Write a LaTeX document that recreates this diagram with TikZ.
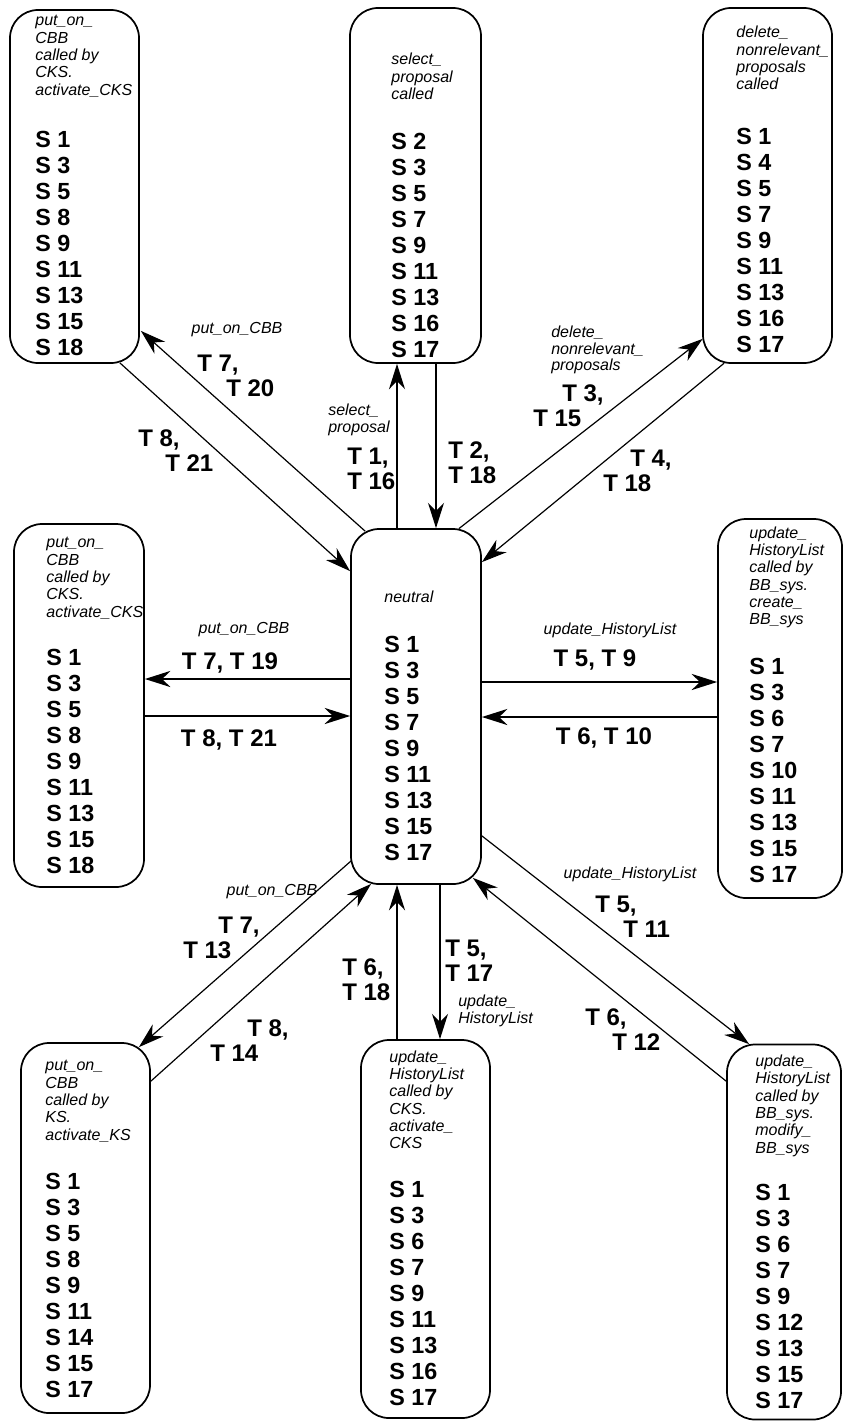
\documentclass[tikz,border=0pt]{standalone}
\usepackage{fontspec}
\setmainfont{Liberation Sans}
\usetikzlibrary{arrows.meta,positioning,calc}

\tikzset{
  state/.style={draw=black, line width=1.3pt, rounded corners=21pt, inner sep=0pt},
  head/.style={anchor=north west, inner sep=0pt, align=left, font=\fontsize{12}{13}\selectfont\itshape},
  slist/.style={anchor=north west, inner sep=0pt, align=left, font=\fontsize{17.5}{19.5}\selectfont\bfseries},
  act/.style={inner sep=0pt, align=left, font=\fontsize{12}{12.5}\selectfont\itshape},
  trans/.style={inner sep=0pt, align=left, font=\fontsize{18}{18.75}\selectfont\bfseries},
  arr/.style={-{Stealth[length=19pt, width=12pt, inset=6pt]}},
  diag/.style={arr, line width=0.9pt},
  vert/.style={arr, line width=1.3pt},
  horz/.style={arr, line width=2pt}
}

\begin{document}
\begin{tikzpicture}[x=0.75pt, y=-0.75pt]
\useasboundingbox (0,0) rectangle (844,1421);

% states, top row
\node[state, minimum width=96.75pt, minimum height=264.75pt] (put1) at (74.5,186.5) {};
\node[head] (put1h) at ($(put1.north west)+(26,6)$) {put\_on\_\\CBB\\called by\\CKS.\\activate\_CKS};
\node[slist] (put1s) at ($(put1.north west)+(26,122)$) {S 1\\S 3\\S 5\\S 8\\S 9\\S 11\\S 13\\S 15\\S 18};

\node[state, minimum width=98.25pt, minimum height=266.25pt] (sel) at (415.5,185.5) {};
\node[head] (selh) at ($(sel.north west)+(42,46)$) {select\_\\proposal\\called};
\node[slist] (sels) at ($(sel.north west)+(42,126)$) {S 2\\S 3\\S 5\\S 7\\S 9\\S 11\\S 13\\S 16\\S 17};

\node[state, minimum width=96.75pt, minimum height=266.25pt] (del) at (767.5,185.5) {};
\node[head] (delh) at ($(del.north west)+(34,19)$) {delete\_\\nonrelevant\_\\proposals\\called};
\node[slist] (dels) at ($(del.north west)+(34,121)$) {S 1\\S 4\\S 5\\S 7\\S 9\\S 11\\S 13\\S 16\\S 17};

% states, middle row
\node[state, minimum width=97.5pt, minimum height=266.25pt] (neutral) at (416,706.5) {};
\node[head] (neutralh) at ($(neutral.north west)+(34,62)$) {neutral};
\node[slist] (neutrals) at ($(neutral.north west)+(34,108)$) {S 1\\S 3\\S 5\\S 7\\S 9\\S 11\\S 13\\S 15\\S 17};

\node[state, minimum width=97.5pt, minimum height=272.25pt] (put2) at (79,705.5) {};
\node[head] (put2h) at ($(put2.north west)+(33,14)$) {put\_on\_\\CBB\\called by\\CKS.\\activate\_CKS};
\node[slist] (put2s) at ($(put2.north west)+(33,126)$) {S 1\\S 3\\S 5\\S 8\\S 9\\S 11\\S 13\\S 15\\S 18};

\node[state, minimum width=93pt, minimum height=284.25pt] (upd1) at (780,708.5) {};
\node[head] (upd1h) at ($(upd1.north west)+(32,8)$) {update\_\\HistoryList\\called by\\BB\_sys.\\create\_\\BB\_sys};
\node[slist] (upd1s) at ($(upd1.north west)+(32,140)$) {S 1\\S 3\\S 6\\S 7\\S 10\\S 11\\S 13\\S 15\\S 17};

% states, bottom row
\node[state, minimum width=96.75pt, minimum height=277.5pt] (put3) at (85.5,1228) {};
\node[head] (put3h) at ($(put3.north west)+(25,18)$) {put\_on\_\\CBB\\called by\\KS.\\activate\_KS};
\node[slist] (put3s) at ($(put3.north west)+(25,131)$) {S 1\\S 3\\S 5\\S 8\\S 9\\S 11\\S 14\\S 15\\S 17};

\node[state, minimum width=96.75pt, minimum height=283.5pt] (upd2) at (425.5,1229) {};
\node[head] (upd2h) at ($(upd2.north west)+(29,11)$) {update\_\\HistoryList\\called by\\CKS.\\activate\_\\CKS};
\node[slist] (upd2s) at ($(upd2.north west)+(29,142)$) {S 1\\S 3\\S 6\\S 7\\S 9\\S 11\\S 13\\S 16\\S 17};

\node[state, minimum width=85.5pt, minimum height=281.25pt] (upd3) at (784,1232) {};
\node[head] (upd3h) at ($(upd3.north west)+(29,11)$) {update\_\\HistoryList\\called by\\BB\_sys.\\modify\_\\BB\_sys};
\node[slist] (upd3s) at ($(upd3.north west)+(29,140)$) {S 1\\S 3\\S 6\\S 7\\S 9\\S 12\\S 13\\S 15\\S 17};

% transitions
\draw[diag] ($(neutral.north west)+(15,3)$) -- ($(put1.south east)+(1,-33)$);
\draw[diag] ($(put1.south east)+(-20,-1)$) -- ($(neutral.north west)+(0,43)$);
\draw[vert] ($(neutral.north)+(-19,0)$) -- ($(sel.south)+(-18.5,0)$);
\draw[vert] ($(sel.south)+(20.5,0)$) -- ($(neutral.north)+(20,0)$);
\draw[diag] ($(neutral.north east)+(-23,0.5)$) -- ($(del.south west)+(0.5,-25)$);
\draw[diag] ($(del.south west)+(22,-0.7)$) -- ($(neutral.north east)+(0,34)$);

\draw[horz] ($(neutral.west)+(0,-27.5)$) -- ($(put2.east)+(0,-26.5)$);
\draw[horz] ($(put2.east)+(0,10.5)$) -- ($(neutral.west)+(0,9.5)$);
\draw[horz] ($(neutral.east)+(0,-24.5)$) -- ($(upd1.west)+(0,-26.5)$);
\draw[horz] ($(upd1.west)+(0,8.5)$) -- ($(neutral.east)+(0,10.5)$);

\draw[diag] ($(neutral.south west)+(1,-24)$) -- ($(put3.north east)+(-12,5)$);
\draw[diag] ($(put3.north east)+(0,39)$) -- ($(neutral.south west)+(21,-1)$);
\draw[vert] ($(upd2.north)+(-28.5,0)$) -- ($(neutral.south)+(-19,0)$);
\draw[vert] ($(neutral.south)+(24,0)$) -- ($(upd2.north)+(14.5,0)$);
\draw[diag] ($(neutral.south east)+(0,-49)$) -- ($(upd3.north west)+(23,0.5)$);
\draw[diag] ($(upd3.north west)+(0,37.5)$) -- ($(neutral.south east)+(-9,-7)$);

% transition labels
\node[act] (a1) at (237,330) {put\_on\_CBB};
\node[trans, anchor=west] (t1) at (197,375.5) {T 7,\\\hspace*{21.75pt}T 20};
\node[trans, anchor=west] (t2) at (138,450.5) {T 8,\\\hspace*{20.25pt}T 21};
\node[act, anchor=west] (a2) at (328,420) {select\_\\proposal};
\node[trans, anchor=west] (t3) at (347,469) {T 1,\\T 16};
\node[trans, anchor=west] (t4) at (448,462.5) {T 2,\\T 18};
\node[act, anchor=west] (a3) at (551,350) {delete\_\\nonrelevant\_\\proposals};
\node[trans, anchor=west] (t5) at (533,406) {\hspace*{21.75pt}T 3,\\T 15};
\node[trans, anchor=west] (t6) at (603,470.5) {\hspace*{20.25pt}T 4,\\T 18};

\node[act] (a4) at (244,630) {put\_on\_CBB};
\node[trans] (t7) at (230,663) {T 7, T 19};
\node[trans] (t8) at (229,740) {T 8, T 21};
\node[act] (a5) at (610,630) {update\_HistoryList};
\node[trans] (t9) at (595,660) {T 5, T 9};
\node[trans] (t10) at (604,738) {T 6, T 10};

\node[act] (a6) at (272,892) {put\_on\_CBB};
\node[trans, anchor=west] (t11) at (183,937.5) {\hspace*{26.25pt}T 7,\\T 13};
\node[trans, anchor=west] (t12) at (210,1040.5) {\hspace*{27.75pt}T 8,\\T 14};
\node[trans, anchor=west] (t13) at (342,979.5) {T 6,\\T 18};
\node[trans, anchor=west] (t14) at (445,960.5) {T 5,\\T 17};
\node[act, anchor=west] (a7) at (458,1011) {update\_\\HistoryList};
\node[act] (a8) at (630,874) {update\_HistoryList};
\node[trans, anchor=west] (t15) at (595,916.5) {T 5,\\\hspace*{21pt}T 11};
\node[trans, anchor=west] (t16) at (585,1030) {T 6,\\\hspace*{20.25pt}T 12};
\end{tikzpicture}
\end{document}
